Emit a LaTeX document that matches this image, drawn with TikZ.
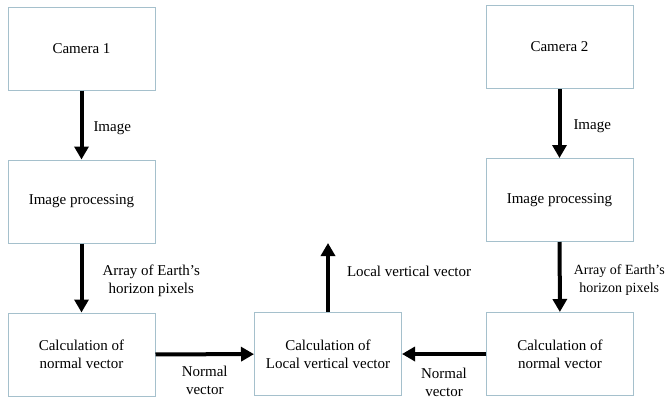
\documentclass[tikz,border=0pt]{standalone}
\usepackage{fontspec}
\setmainfont{Liberation Serif}
\usepackage{tikz}
\usetikzlibrary{arrows.meta, positioning}
\usepackage{xcolor}
\definecolor{boxline}{RGB}{165,192,204}

\begin{document}
\begin{tikzpicture}[x=1pt, y=-1pt, font=\rmfamily\fontsize{15}{18}\selectfont,
    block/.style={draw=boxline, line width=1pt, minimum width=147pt,
                  minimum height=83pt, align=center, inner sep=0pt},
    flow/.style={line width=4pt, -{Triangle[length=13pt, width=14pt]}},
    lbl/.style={align=center, inner sep=0pt}]
  \useasboundingbox (0,0) rectangle (665,399);
  % left chain
  \node[block] (cam1)  at (81.5,48.5)  {Camera 1};
  \node[block] (proc1) at (81.5,201.5) {Image processing};
  \node[block] (calc1) at (81.5,354.5) {Calculation of\\normal vector};
  % right chain
  \node[block] (cam2)  at (559.5,47)   {Camera 2};
  \node[block] (proc2) at (559.5,200)  {Image processing};
  \node[block] (calc2) at (560,354)    {Calculation of\\normal vector};
  % the fused result
  \node[block] (lvv) at (328,354) {Calculation of\\Local vertical vector};
  \coordinate (out) at (328,243);
  % arrows on the left
  \draw[flow] (cam1) -- node[lbl, anchor=west, xshift=10pt, yshift=-3pt]
    {Image} (proc1);
  \draw[flow] (proc1) -- node[lbl, anchor=west, xshift=19pt, yshift=-3pt]
    {Array of Earth's\\horizon pixels} (calc1);
  \draw[flow] (calc1) -- node[lbl, below=10pt] {Normal\\vector} (lvv);
  % arrows on the right
  \draw[flow] (cam2) -- node[lbl, anchor=west, xshift=12pt, yshift=-3pt]
    {Image} (proc2);
  \draw[flow] (proc2) -- node[lbl, anchor=west, xshift=12pt, yshift=-3pt,
    font=\rmfamily\fontsize{14}{18}\selectfont]
    {Array of Earth's\\horizon pixels} (calc2);
  \draw[flow] (calc2) -- node[lbl, below=12pt] {Normal\\vector} (lvv);
  % output
  \draw[flow] (lvv) -- node[lbl, anchor=west, xshift=17pt, yshift=6pt]
    {Local vertical vector} (out);
\end{tikzpicture}
\end{document}
